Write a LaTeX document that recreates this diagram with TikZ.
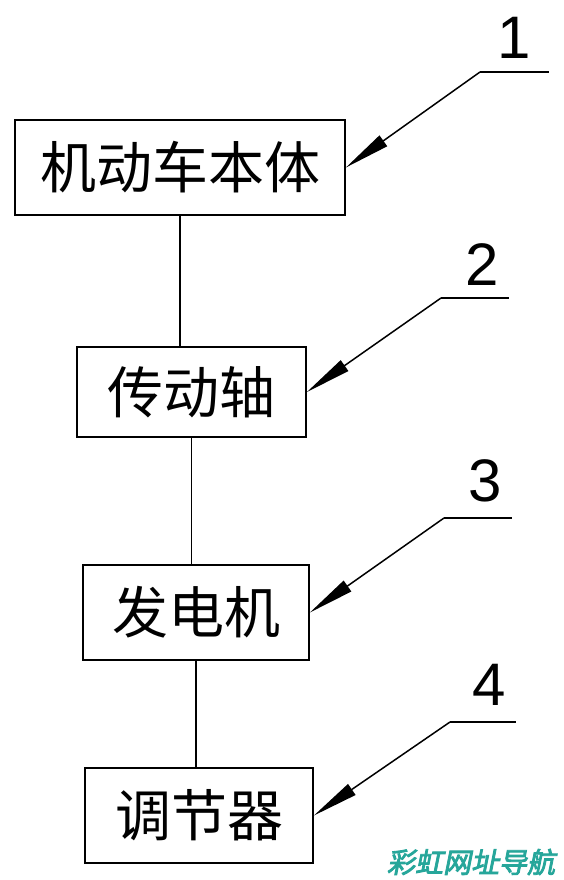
\documentclass[tikz,border=0pt]{standalone}
\usepackage{fontspec}
\newfontfamily\cjk{Noto Sans CJK SC}
\newfontfamily\wmfont[FakeBold=3,FakeSlant=0.2]{Noto Sans CJK SC}
\setmainfont{Liberation Sans}
\usetikzlibrary{arrows.meta,calc}
\definecolor{wmteal}{RGB}{38,166,154}
\tikzset{
  block/.style={draw=black, line width=1.8pt, fill=white, inner sep=0pt,
    font=\cjk\fontsize{56}{60}\selectfont},
  link/.style={line width=1.8pt},
  leader/.style={line width=1.5pt},
  pointer/.style={line width=1.5pt, -{Triangle[length=46pt,width=13pt]}},
  numlabel/.style={font=\fontsize{60}{64}\selectfont, inner sep=0pt}
}
\begin{document}
\begin{tikzpicture}[x=1pt,y=-1pt]
\useasboundingbox[fill=white] (0,0) rectangle (563,880);
% boxes
\node[block, minimum width=330pt, minimum height=95pt] (b1) at (180,167.5) {机动车本体};
\node[block, minimum width=229pt, minimum height=90pt] (b2) at (191.5,392) {传动轴};
\node[block, minimum width=226pt, minimum height=95pt] (b3) at (196,612.5) {发电机};
\node[block, minimum width=228pt, minimum height=95pt] (b4) at (199,815.5) {调节器};
% connectors
\draw[link] (b1.south) -- (b1.south |- b2.north);
\draw[link] (b2.south) -- (b2.south |- b3.north);
\draw[link] (b3.south) -- (b3.south |- b4.north);
% leaders
\coordinate (k1) at (480,72);  \coordinate (e1) at (549,72);
\coordinate (k2) at (441,298); \coordinate (e2) at (509,298);
\coordinate (k3) at (444,518); \coordinate (e3) at (512,518);
\coordinate (k4) at (450,722); \coordinate (e4) at (516,722);
\draw[leader] (k1) -- (e1);
\draw[leader] (k2) -- (e2);
\draw[leader] (k3) -- (e3);
\draw[leader] (k4) -- (e4);
\draw[pointer] (k1) -- (b1.east);
\draw[pointer] (k2) -- (b2.east);
\draw[pointer] (k3) -- (b3.east);
\draw[pointer] (k4) -- (b4.east);
% labels
\node[numlabel] (n1) at (514,38) {1};
\node[numlabel] (n2) at (482,265) {2};
\node[numlabel] (n3) at (485,481) {3};
\node[numlabel] (n4) at (489,685) {4};
% watermark
\node[text=wmteal, font=\wmfont\fontsize{28}{30}\selectfont, inner sep=0pt] (wm) at (471,862) {彩虹网址导航};
\end{tikzpicture}
\end{document}
